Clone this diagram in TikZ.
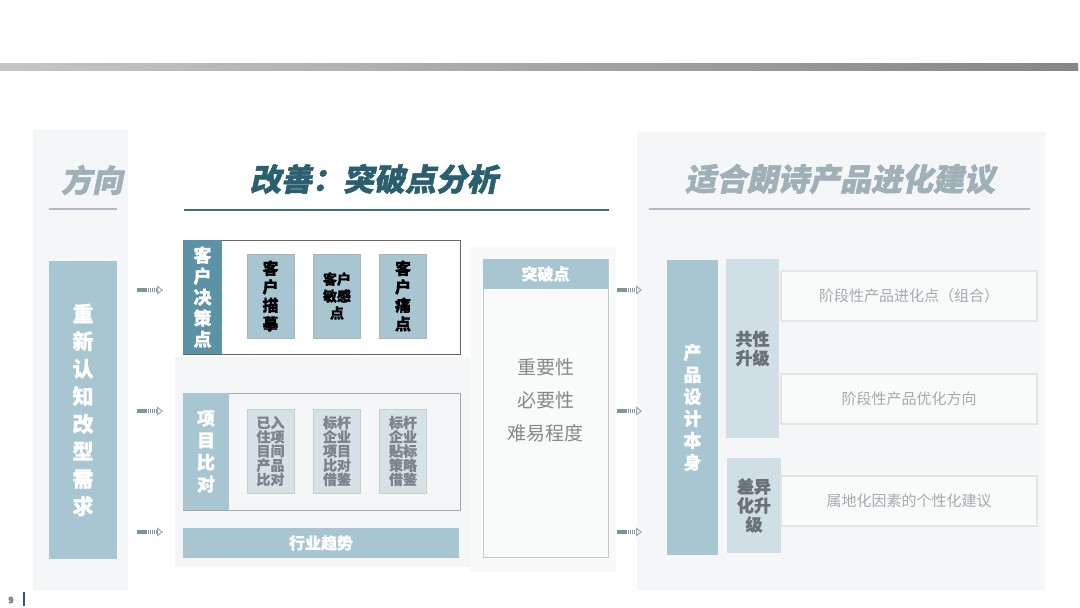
\documentclass[tikz,border=0pt]{standalone}
\usepackage{fontspec}
\setmainfont{Noto Sans CJK SC}[BoldFeatures={FakeBold=0.8}]
\newfontfamily\ttlfont[FakeSlant=0.2,FakeBold=1.6]{Noto Sans CJK SC}
\usetikzlibrary{arrows.meta,positioning}
\definecolor{teal1}{HTML}{2B5F6E}
\definecolor{pale}{HTML}{9FB0B7}
\definecolor{boxblue}{HTML}{A8C6D1}
\definecolor{deepblue}{HTML}{5B92A6}
\definecolor{softblue}{HTML}{D0DFE5}
\definecolor{mist}{HTML}{D7E2E6}
\definecolor{panel}{HTML}{F5F6F7}
\definecolor{greytxt}{HTML}{7D868C}
\definecolor{lighttxt}{HTML}{A3ABB0}
\definecolor{arrowgrey}{HTML}{7F959E}

\begin{document}
\begin{tikzpicture}[x=1pt,y=-1pt,
  bx/.style={rectangle, inner sep=0pt, align=center, font=\bfseries},
  title/.style={font=\ttlfont\bfseries\fontsize{31}{33}\selectfont, inner sep=0pt},
  bluebox/.style={bx, fill=boxblue, text=white},
  inbox/.style={bx, fill=boxblue, draw=gray!60, minimum width=47pt, minimum height=84pt},
  greybox/.style={bx, fill=mist, draw=mist!80!gray, text=greytxt, minimum width=47pt,
                  minimum height=84pt, font=\bfseries\fontsize{14}{14.2}\selectfont},
  ideabox/.style={bx, fill=panel!60!white, draw=gray!20, line width=1.5pt,
                  minimum width=256pt, minimum height=50pt, text=lighttxt,
                  font=\fontsize{15}{18}\selectfont},
  flow/.style={line width=4pt, draw=arrowgrey, dash pattern=on 1.6pt off 0.5pt,
               -{Triangle[open, length=6pt, width=9pt, line width=1pt, color=arrowgrey!80]}},
  rule/.style={line width=2pt}
]
  \useasboundingbox (0,0) rectangle (1080,608);
  \fill[left color=gray!45, right color=gray!95] (0,63) rectangle (1078,70);
  \fill[panel] (33,130) rectangle (128,590);
  \fill[panel] (175,357) rectangle (470,567);
  \fill[panel!70!white] (470,247) rectangle (616,572);
  \fill[panel] (637,132) rectangle (1045,590);

  \node[title, text=pale] (dir) at (92,180) {方向};
  \node[title, text=teal1] (imp) at (374,179) {改善：突破点分析};
  \node[title, text=pale] (adv) at (840,179) {适合朗诗产品进化建议};
  \draw[rule, pale!85] (49,209) -- (117,209);
  \draw[rule, teal1!90] (184,210) -- (609,210);
  \draw[rule, pale!85] (649,209) -- (1030,209);

  \node[bluebox, minimum width=68pt, minimum height=298pt,
        font=\bfseries\fontsize{21}{27.5}\selectfont] (need) at (83,410)
    {重\\新\\认\\知\\改\\型\\需\\求};

  \node[bx, fill=white, draw=gray!80!black, minimum width=277pt, minimum height=114pt] (dec) at (321.5,297) {};
  \node[bx, fill=deepblue, text=white, minimum width=39pt, minimum height=114pt,
        font=\bfseries\fontsize{18}{21}\selectfont] (decl) at (202.5,297)
    {客\\户\\决\\策\\点};
  \node[inbox, font=\bfseries\fontsize{16}{18.5}\selectfont] (d1) at (270.5,296) {客\\户\\描\\摹};
  \node[inbox, font=\bfseries\fontsize{14}{17}\selectfont] (d2) at (337,296) {客户\\敏感\\点};
  \node[inbox, font=\bfseries\fontsize{16}{18.5}\selectfont] (d3) at (403,296) {客\\户\\痛\\点};

  \node[bx, fill=panel, draw=gray!70, minimum width=277pt, minimum height=117pt] (cmp) at (321.5,451.5) {};
  \node[bluebox, minimum width=46pt, minimum height=117pt,
        font=\bfseries\fontsize{18}{22}\selectfont] (cmpl) at (206,451.5)
    {项\\目\\比\\对};
  \node[greybox] (c1) at (270.5,451) {已入\\住项\\目间\\产品\\比对};
  \node[greybox] (c2) at (337,451) {标杆\\企业\\项目\\比对\\借鉴};
  \node[greybox] (c3) at (403,451) {标杆\\企业\\贴标\\策略\\借鉴};

  \node[bluebox, minimum width=276pt, minimum height=30pt,
        font=\bfseries\fontsize{16}{18}\selectfont] (trend) at (321,543) {行业趋势};

  \node[bx, fill=panel!60!white, draw=gray!45, minimum width=125pt, minimum height=298pt] (brk) at (545.5,408) {};
  \node[bluebox, minimum width=125pt, minimum height=30pt,
        font=\bfseries\fontsize{16}{18}\selectfont] (brkh) at (545.5,274) {突破点};
  \node[bx, font=\fontsize{19}{33}\selectfont, text=lighttxt!80!black] (crit) at (545.5,400)
    {重要性\\必要性\\难易程度};

  \node[bluebox, minimum width=51pt, minimum height=295pt,
        font=\bfseries\fontsize{18}{22}\selectfont] (prod) at (692.5,407.5)
    {产\\品\\设\\计\\本\\身};
  \node[bx, fill=softblue, text=greytxt!85!black, minimum width=53pt, minimum height=179pt,
        font=\bfseries\fontsize{17}{19}\selectfont] (com) at (752.5,348.5) {共性\\升级};
  \node[bx, fill=softblue, text=greytxt!85!black, minimum width=54pt, minimum height=95pt,
        font=\bfseries\fontsize{17}{19}\selectfont] (diff) at (754,505.5) {差异\\化升\\级};
  \node[ideabox] (t1) at (909,296) {阶段性产品进化点（组合）};
  \node[ideabox] (t2) at (909,399) {阶段性产品优化方向};
  \node[ideabox] (t3) at (909,501) {属地化因素的个性化建议};

  \foreach \y/\n in {290/1,411/2,532/3}{
    \coordinate (la\n) at (137,\y);
    \coordinate (lb\n) at (163,\y);
    \coordinate (ra\n) at (617,\y);
    \coordinate (rb\n) at (642,\y);
    \draw[flow] (la\n) -- (lb\n);
    \draw[flow] (ra\n) -- (rb\n);
  }

  \node[font=\bfseries\fontsize{9}{10}\selectfont, text=gray, inner sep=0pt] (pg) at (11,600) {9};
  \draw[line width=2pt, teal1] (24,592) -- (24,606);
\end{tikzpicture}
\end{document}
